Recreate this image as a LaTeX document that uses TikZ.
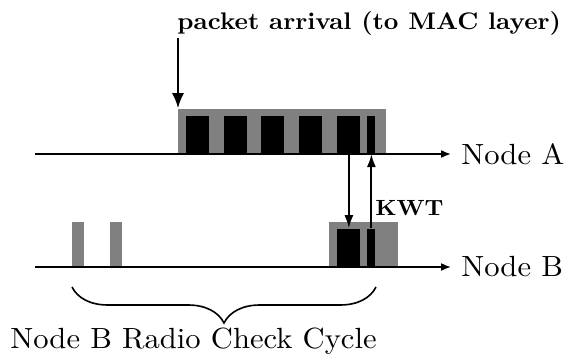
\documentclass[tikz,border=0pt]{standalone}
\usepackage{graphicx}
\usetikzlibrary{arrows.meta,decorations.pathreplacing}
\definecolor{slotgray}{RGB}{128,128,128}
\newcommand{\bigtext}[1]{\scalebox{1.53}[1.46]{#1}}
\tikzset{
  graybox/.style={fill=slotgray, draw=none, inner sep=0pt, anchor=south west},
  blackbox/.style={fill=black, draw=none, inner sep=0pt, anchor=south west, minimum height=19pt},
  timeline/.style={line width=0.8pt, -{Latex[length=5pt,width=4pt]}},
  signal/.style={line width=1pt, -{Latex[length=6.5pt,width=4.5pt]}},
  nodelabel/.style={anchor=west, inner sep=5pt},
}
\begin{document}
\begin{tikzpicture}[x=0.5pt,y=-0.5pt]
    \useasboundingbox (0,0) rectangle (574,360);
    % time lines of the two nodes
    \coordinate (startA) at (35,154);
    \coordinate (startB) at (35,267);
    \node [nodelabel] (nodeA) at (451,154) {\bigtext{Node A}};
    \node [nodelabel] (nodeB) at (451,267) {\bigtext{Node B}};
    % node A: busy sending the packet
    \node [graybox, minimum width=104pt, minimum height=22.5pt] (burstA) at (178,154) {};
    \foreach \x [count=\i] in {186,224,261,299,337}
        \node [blackbox, minimum width=11.5pt] (pktA\i) at (\x,154) {};
    \node [blackbox, minimum width=4pt] (ackA) at (367,154) {};
    % node B: radio checks
    \node [graybox, minimum width=6pt, minimum height=22.5pt] (checkB1) at (72,267) {};
    \node [graybox, minimum width=6pt, minimum height=22.5pt] (checkB2) at (110,267) {};
    \node [graybox, minimum width=34.5pt, minimum height=22.5pt] (burstB) at (329,267) {};
    \node [blackbox, minimum width=11.5pt] (pktB) at (337,267) {};
    \node [blackbox, minimum width=4pt] (ackB) at (367,267) {};
    \draw [timeline] (startA) -- (nodeA.west);
    \draw [timeline] (startB) -- (nodeB.west);
    % labels
    \node [font=\bfseries, anchor=base west, inner sep=0pt] (arrival) at (177,29) {\scalebox{1.27}[1.2]{packet arrival (to MAC layer)}};
    \coordinate (arrTop) at (178,38);
    \draw [signal, -{Latex[length=7.5pt,width=6pt]}] (arrTop) -- (burstA.north west);
    \draw [signal] (pktA5.south) -- (pktB.north);
    \draw [signal] (ackB.north) -- (ackA.south);
    \node [font=\bfseries, anchor=base west, inner sep=0pt] (kwt) at (375,215) {\scalebox{1.18}[1.1]{KWT}};
    % check cycle
    \draw [line width=0.8pt, decorate, decoration={brace, mirror, amplitude=18pt}] (72,287) -- (376,287);
    \node [anchor=base west, inner sep=0pt] (cycle) at (10,348) {\bigtext{Node B Radio Check Cycle}};
\end{tikzpicture}
\end{document}
